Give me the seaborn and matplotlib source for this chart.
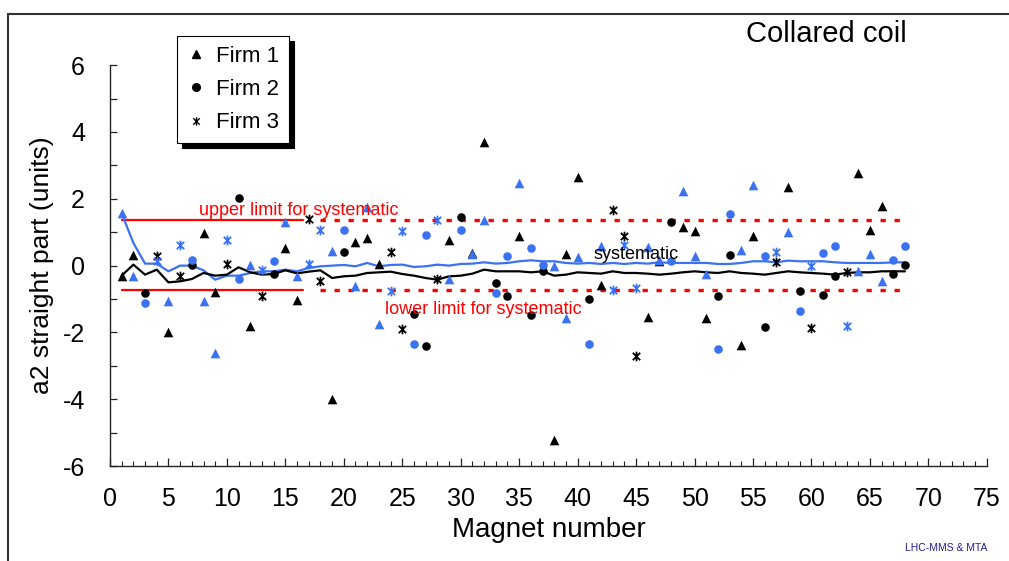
import numpy as np
import matplotlib
matplotlib.use("Agg")
import matplotlib.pyplot as plt
from matplotlib.path import Path
from matplotlib.lines import Line2D
from matplotlib.patches import Rectangle
import seaborn as sns

# ---------------- data ----------------
firm1_n = [1, 2, 5, 8, 9, 12, 15, 16, 19, 21, 22, 23, 29, 31, 32, 35, 38, 39, 40, 42,
           46, 47, 49, 50, 51, 54, 55, 58, 64, 65, 66]
firm1_black = [-0.30, 0.33, -2.00, 0.98, -0.80, -1.80, 0.53, -1.02, -3.98, 0.71, 0.83, 0.06,
               0.76, 0.38, 3.71, 0.90, -5.22, 0.35, 2.64, -0.59, -1.54, 0.15, 1.16, 1.03,
               -1.57, -2.36, 0.88, 2.34, 2.76, 1.06, 1.78]
firm1_blue = [1.56, -0.30, -1.05, -1.07, -2.60, 0.03, 1.30, -0.30, 0.45, -0.60, 1.76, -1.74,
              -0.40, 0.35, 1.38, 2.46, -0.02, -1.57, 0.25, 0.58, 0.56, 0.18, 2.24, 0.28,
              -0.25, 0.48, 2.41, 1.00, -0.17, 0.35, -0.47]

firm2_n = [3, 7, 11, 14, 20, 26, 27, 30, 33, 34, 36, 37, 41, 48, 52, 53, 56, 59, 61, 62, 67, 68]
firm2_black = [-0.81, 0.03, 2.01, -0.24, 0.41, -1.44, -2.41, 1.46, -0.52, -0.92, -1.49, -0.17,
               -1.00, 1.30, -0.90, 0.33, -1.85, -0.77, -0.87, -0.32, -0.24, 0.03]
firm2_blue = [-1.12, 0.18, -0.39, 0.13, 1.08, -2.33, 0.93, 1.06, -0.82, 0.30, 0.53, 0.03,
              -2.33, 0.13, -2.50, 1.53, 0.30, -1.37, 0.38, 0.58, 0.18, 0.58]

firm3_n = [4, 6, 10, 13, 17, 18, 24, 25, 28, 43, 44, 45, 57, 60, 63]
firm3_black = [0.30, -0.30, 0.05, -0.90, 1.40, -0.47, 0.40, -1.90, -0.40, 1.66, 0.88, -2.70,
               0.10, -1.88, -0.20]
firm3_blue = [0.15, 0.63, 0.76, -0.12, 0.06, 1.08, -0.77, 1.05, 1.36, -0.74, 0.61, -0.67,
              0.40, -0.02, -1.80]

magnets = list(range(1, 69))
systematic_black = [-0.30, 0.03, -0.27, -0.12, -0.50, -0.47, -0.40, -0.22, -0.30, -0.27,
                    -0.05, -0.20, -0.27, -0.25, -0.14, -0.23, -0.18, -0.14, -0.37, -0.32,
                    -0.30, -0.22, -0.20, -0.18, -0.25, -0.30, -0.37, -0.42, -0.32, -0.30,
                    -0.24, -0.12, -0.17, -0.17, -0.17, -0.20, -0.17, -0.30, -0.27, -0.20,
                    -0.22, -0.24, -0.17, -0.22, -0.22, -0.24, -0.27, -0.24, -0.20, -0.17,
                    -0.20, -0.22, -0.17, -0.22, -0.24, -0.27, -0.22, -0.17, -0.20, -0.22,
                    -0.24, -0.27, -0.22, -0.20, -0.20, -0.17, -0.17, -0.17]
systematic_blue = [1.56, 0.68, 0.06, 0.06, -0.17, 0.00, 0.00, -0.14, -0.42, -0.30,
                   -0.30, -0.22, -0.17, -0.17, -0.12, -0.17, -0.07, -0.02, 0.00, 0.02,
                   -0.02, 0.08, -0.02, 0.02, 0.03, -0.04, -0.02, 0.03, 0.00, 0.05,
                   0.06, 0.10, 0.06, 0.08, 0.13, 0.16, 0.13, 0.13, 0.08, 0.06,
                   0.08, 0.05, 0.08, 0.05, 0.08, 0.06, 0.10, 0.08, 0.08, 0.08,
                   0.08, 0.05, 0.05, 0.08, 0.13, 0.13, 0.10, 0.15, 0.13, 0.13,
                   0.13, 0.10, 0.08, 0.08, 0.08, 0.08, 0.10, 0.10]

upper_limit = 1.37
lower_limit = -0.72
limit_solid_range = [1, 16.5]
limit_dotted_range = [18, 67.6]

xticks = list(range(0, 76, 5))
yticks = list(range(-6, 7, 2))

# ---------------- style ----------------
sns.set_style("white")
plt.rcParams['font.family'] = ['Liberation Sans', 'DejaVu Sans']
plt.rcParams['axes.unicode_minus'] = False
plt.rcParams['text.color'] = 'black'
plt.rcParams['axes.labelcolor'] = 'black'

BLUE = "#3a72f2"
BLACK = "black"
RED = "#ff0000"

star = Path([(-1, -1), (1, 1), (-1, 1), (1, -1), (0, -1.3), (0, 1.3)],
            [Path.MOVETO, Path.LINETO, Path.MOVETO, Path.LINETO, Path.MOVETO, Path.LINETO])

fig = plt.figure(figsize=(10.09, 5.61), dpi=100)
ax = fig.add_axes([0.109, 0.169, 0.869, 0.715])

# limit lines
for lim in (upper_limit, lower_limit):
    sns.lineplot(x=limit_solid_range, y=[lim, lim], color=RED, lw=1.6, ax=ax,
                 estimator=None, sort=False, zorder=2)
    sns.lineplot(x=limit_dotted_range, y=[lim, lim], color=RED, lw=2.4, ax=ax,
                 estimator=None, sort=False, zorder=2, dashes=False,
                 linestyle=(0, (1.6, 2.6)))

# systematic lines
sns.lineplot(x=magnets, y=systematic_blue, color=BLUE, lw=1.6, ax=ax,
             estimator=None, sort=False, zorder=3)
sns.lineplot(x=magnets, y=systematic_black, color=BLACK, lw=1.6, ax=ax,
             estimator=None, sort=False, zorder=3)

# scatter markers
groups = [
    (firm1_n, firm1_black, BLACK, "^", 48, 0.0),
    (firm1_n, firm1_blue, BLUE, "^", 48, 0.0),
    (firm2_n, firm2_black, BLACK, "o", 38, 0.0),
    (firm2_n, firm2_blue, BLUE, "o", 38, 0.0),
    (firm3_n, firm3_black, BLACK, star, 48, 1.3),
    (firm3_n, firm3_blue, BLUE, star, 48, 1.3),
]
for xs, ys, col, mk, size, lw in groups:
    sns.scatterplot(x=xs, y=ys, color=col, marker=mk, s=size, edgecolor=col,
                    linewidth=lw, ax=ax, legend=False, zorder=4)

# axes
ax.set_xlim(0, 75)
ax.set_ylim(-6, 6)
ax.set_xticks(xticks)
ax.set_xticks(range(0, 76), minor=True)
ax.set_yticks(yticks)
ax.set_yticks(range(-6, 7), minor=True)
ax.tick_params(axis='x', which='major', direction='in', length=6, width=0.9,
               pad=15, labelsize=18, colors='#222222', labelcolor='black', bottom=True)
ax.tick_params(axis='x', which='minor', direction='in', length=3.5, width=0.8,
               colors='#222222', bottom=True)
ax.tick_params(axis='y', which='both', direction='in', length=5, width=0.9,
               pad=18, labelsize=18, colors='#222222', labelcolor='black', left=True)
ax.set_xlabel("Magnet number", fontsize=20, labelpad=4, color='black')
ax.set_ylabel("a2 straight part (units)", fontsize=19, labelpad=6, color='black')
for side in ("top", "right"):
    ax.spines[side].set_visible(False)
for side in ("left", "bottom"):
    ax.spines[side].set_color('#222222')
    ax.spines[side].set_linewidth(1.0)

# annotations
ax.text(7.6, upper_limit + 0.02, "upper limit for systematic", color=RED,
        fontsize=13, ha='left', va='bottom', zorder=5)
ax.text(23.5, -1.30, "lower limit for systematic", color=RED,
        fontsize=13, ha='left', va='center', zorder=5)
ax.text(41.4, 0.34, "systematic", color='black', fontsize=13,
        ha='left', va='center', zorder=5)

fig.text(0.819, 1 - 34 / 561, "Collared coil", fontsize=21, ha='center', va='center',
         color='black')
fig.text(0.979, 1 - 548 / 561, "LHC-MMS & MTA", fontsize=7.5, color='#1f1f8f',
         ha='right', va='center')

# legend
handles = [
    Line2D([], [], ls='none', marker='^', color='black', markersize=6),
    Line2D([], [], ls='none', marker='o', color='black', markersize=5.5),
    Line2D([], [], ls='none', marker=star, color='black', markersize=6, mew=1.0),
]
leg = ax.legend(handles, ["Firm 1", "Firm 2", "Firm 3"], loc='upper left',
                bbox_to_anchor=(177 / 1009, 1 - 36 / 561), bbox_transform=fig.transFigure,
                fontsize=16, frameon=True, fancybox=False, edgecolor='black',
                shadow={'color': 'black', 'alpha': 1.0, 'ox': 3.5, 'oy': -3.5},
                borderaxespad=0,
                handlelength=0.8, handletextpad=0.5, labelspacing=0.55, borderpad=0.45)
leg.get_frame().set_linewidth(0.8)
for t in leg.get_texts():
    t.set_color('black')

# figure border
fig.add_artist(Rectangle((8 / 1009, -0.05), 1.2, 1.05 - 14 / 561,
                         transform=fig.transFigure, fill=False, edgecolor='#333333',
                         lw=1.5, clip_on=False))

fig.savefig("out.png", dpi=100)
